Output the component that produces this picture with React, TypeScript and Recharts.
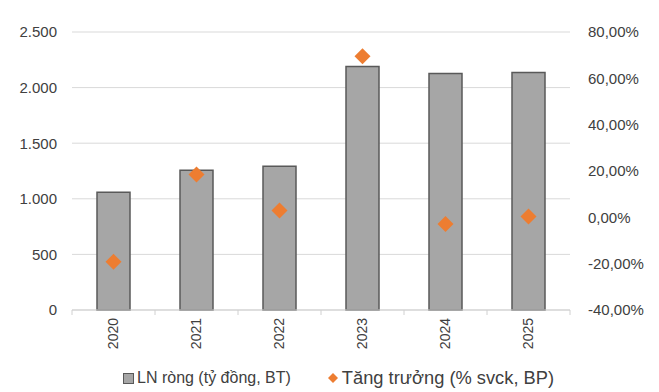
import React from "react";
import {
  ComposedChart,
  Bar,
  Line,
  XAxis,
  YAxis,
  CartesianGrid,
  Legend,
} from "recharts";

// Net profit (billion VND) and year-over-year growth (%)
const years = ["2020", "2021", "2022", "2023", "2024", "2025"];
const netProfit = [1060, 1256, 1292, 2190, 2127, 2135];
const growth = [-19.2, 18.5, 2.9, 69.5, -2.9, 0.4];

const leftTicks = [0, 500, 1000, 1500, 2000, 2500];
const rightTicks = [-40, -20, 0, 20, 40, 60, 80];

const barLabel = "LN ròng (tỷ đồng, BT)";
const lineLabel = "Tăng trưởng (% svck, BP)";

const data = years.map((year, i) => ({
  year,
  profit: netProfit[i],
  growth: growth[i],
}));

const W = 659;
const H = 392;
const LEFT_W = 72;
const RIGHT_W = 89;
const TOP = 32;
const XAXIS_H = 82;
const FONT = "'Liberation Sans', Arial, sans-serif";
const TEXT = "#404040";
const AXIS = "#d0d0d0";
const BAND = (W - LEFT_W - RIGHT_W) / years.length;

const fmtThousands = (v: number) =>
  v.toString().replace(/\B(?=(\d{3})+(?!\d))/g, ".");
const fmtPct = (v: number) => `${v.toFixed(2).replace(".", ",")}%`;

const XTick = (props: any) => {
  const { x, y, payload, index, visibleTicksCount } = props;
  const left = x - BAND / 2;
  const right = x + BAND / 2;
  return (
    <g>
      <line x1={left} y1={y} x2={left} y2={y + 5} stroke={AXIS} />
      {index === visibleTicksCount - 1 && (
        <line x1={right} y1={y} x2={right} y2={y + 5} stroke={AXIS} />
      )}
      <g transform={`translate(${x},${y + 8})`}>
        <text
          transform="rotate(-90)"
          textAnchor="end"
          dy="0.35em"
          fill={TEXT}
          fontSize={14}
          fontFamily={FONT}
        >
          {payload.value}
        </text>
      </g>
    </g>
  );
};

const Diamond = (props: any) => {
  const { cx, cy } = props;
  if (cx == null || cy == null) return null;
  const r = 8;
  return (
    <path
      d={`M${cx},${cy - r}L${cx + r},${cy}L${cx},${cy + r}L${cx - r},${cy}Z`}
      fill="#ed7d31"
    />
  );
};

const LegendContent = () => (
  <div
    style={{
      display: "flex",
      alignItems: "center",
      fontFamily: FONT,
      color: TEXT,
      whiteSpace: "nowrap",
    }}
  >
    <span
      style={{
        display: "inline-block",
        width: 9,
        height: 9,
        background: "#a6a6a6",
        border: "1px solid #595959",
        marginLeft: 123,
        marginRight: 3,
      }}
    />
    <span style={{ fontSize: 16 }}>{barLabel}</span>
    <svg width={12} height={12} style={{ marginLeft: 36, marginRight: 3 }}>
      <path d="M6,1L11,6L6,11L1,6Z" fill="#ed7d31" />
    </svg>
    <span style={{ fontSize: 18.3 }}>{lineLabel}</span>
  </div>
);

export default function App() {
  return (
    <div style={{ position: "absolute", left: 0, top: 0, background: "#fff" }}>
      <ComposedChart
        width={W}
        height={H}
        data={data}
        margin={{ top: TOP, right: 0, bottom: 0, left: 0 }}
      >
        <CartesianGrid
          yAxisId="left"
          vertical={false}
          stroke="#d9d9d9"
          strokeWidth={1}
        />
        <XAxis
          dataKey="year"
          height={XAXIS_H}
          interval={0}
          tickLine={false}
          tickSize={0}
          tickMargin={0}
          axisLine={{ stroke: AXIS }}
          tick={<XTick />}
        />
        <YAxis
          yAxisId="left"
          orientation="left"
          width={LEFT_W}
          domain={[0, 2500]}
          ticks={leftTicks}
          tickFormatter={fmtThousands}
          axisLine={false}
          tickLine={false}
          tickSize={0}
          tickMargin={15}
          tick={{ fill: TEXT, fontSize: 15, fontFamily: FONT }}
        />
        <YAxis
          yAxisId="right"
          orientation="right"
          width={RIGHT_W}
          domain={[-40, 80]}
          ticks={rightTicks}
          tickFormatter={fmtPct}
          axisLine={false}
          tickLine={false}
          tickSize={0}
          tickMargin={18}
          tick={{ fill: TEXT, fontSize: 15, fontFamily: FONT }}
        />
        <Bar
          yAxisId="left"
          dataKey="profit"
          name={barLabel}
          barSize={33}
          fill="#a6a6a6"
          stroke="#595959"
          strokeWidth={1.5}
          isAnimationActive={false}
        />
        <Line
          yAxisId="right"
          dataKey="growth"
          name={lineLabel}
          stroke="none"
          dot={<Diamond />}
          activeDot={false}
          isAnimationActive={false}
        />
        <Legend
          layout="horizontal"
          verticalAlign="middle"
          align="center"
          content={<LegendContent />}
          wrapperStyle={{ position: "absolute", left: 0, top: 367, width: W }}
        />
      </ComposedChart>
    </div>
  );
}
